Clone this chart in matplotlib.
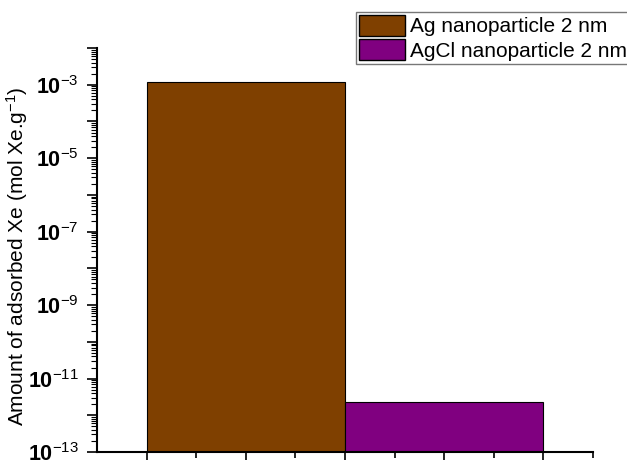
import matplotlib
matplotlib.use("Agg")
import matplotlib.pyplot as plt
from matplotlib.ticker import LogLocator, FixedLocator, NullFormatter, FuncFormatter
import numpy as np

plt.rcParams['font.family'] = ['Liberation Sans', 'DejaVu Sans']
plt.rcParams['mathtext.fontset'] = 'custom'
plt.rcParams['mathtext.rm'] = 'Liberation Sans'
plt.rcParams['mathtext.it'] = 'Liberation Sans:italic'
plt.rcParams['mathtext.bf'] = 'Liberation Sans:bold'
plt.rcParams['mathtext.sf'] = 'Liberation Sans'
plt.rcParams['axes.unicode_minus'] = False

labels = ["Ag nanoparticle 2 nm", "AgCl nanoparticle 2 nm"]
values = [1.2e-3, 2.2e-12]
colors = ["#7F4000", "#800080"]
x_centers = [3, 7]
bar_width = 4

fig = plt.figure(figsize=(6.27, 4.62), dpi=100)
ax = fig.add_axes([0.1547, 0.0216, 0.7911, 0.8745])

for xc, v, c, lab in zip(x_centers, values, colors, labels):
    ax.bar(xc, v, width=bar_width, color=c, edgecolor='black', linewidth=0.8, label=lab, bottom=1e-13)

ax.set_yscale('log')
ax.set_ylim(1e-13, 1e-2)
ax.set_xlim(0, 10)

ax.yaxis.set_major_locator(LogLocator(base=10, numticks=20))
ax.yaxis.set_minor_locator(LogLocator(base=10, subs=np.arange(2, 10), numticks=20))
def fmt(v, pos):
    e = int(round(np.log10(v)))
    if e % 2 != 0:
        return r'$\mathbf{10}^{\mathsf{%d}}$' % e
    return ''
ax.yaxis.set_major_formatter(FuncFormatter(fmt))
ax.yaxis.set_minor_formatter(NullFormatter())

ax.xaxis.set_major_locator(FixedLocator([1, 3, 5, 7, 9]))
ax.xaxis.set_minor_locator(FixedLocator([2, 4, 6, 8, 10]))
ax.xaxis.set_major_formatter(NullFormatter())

ax.tick_params(axis='y', which='major', length=7, width=1.2, labelsize=15.5, direction='out', pad=6)
ax.tick_params(axis='y', which='minor', length=4, width=0.8, direction='out')
ax.tick_params(axis='x', which='major', length=6, width=1.2, direction='out')
ax.tick_params(axis='x', which='minor', length=4, width=1.2, direction='out')

for s in ['top', 'right']:
    ax.spines[s].set_visible(False)
for s in ['left', 'bottom']:
    ax.spines[s].set_linewidth(1.5)

for t in ax.get_yticklabels():
    t.set_fontweight('bold')
    t.set_va('center_baseline')

ax.set_ylabel(r'Amount of adsorbed Xe (mol Xe.g$^{\mathregular{-1}}$)', fontsize=15)
ax.yaxis.set_label_coords(-0.135, 0.485)

leg = fig.legend(loc='upper right', bbox_to_anchor=(1.005, 0.975), fontsize=15,
                 frameon=True, fancybox=False, edgecolor='#555555', handlelength=2.2,
                 handleheight=1.2, handletextpad=0.25, borderpad=0.15, labelspacing=0.12,
                 borderaxespad=0.0)
leg.get_frame().set_linewidth(1.0)
for p in leg.get_patches():
    p.set_linewidth(1.0)

fig.savefig("out.png", dpi=100)
